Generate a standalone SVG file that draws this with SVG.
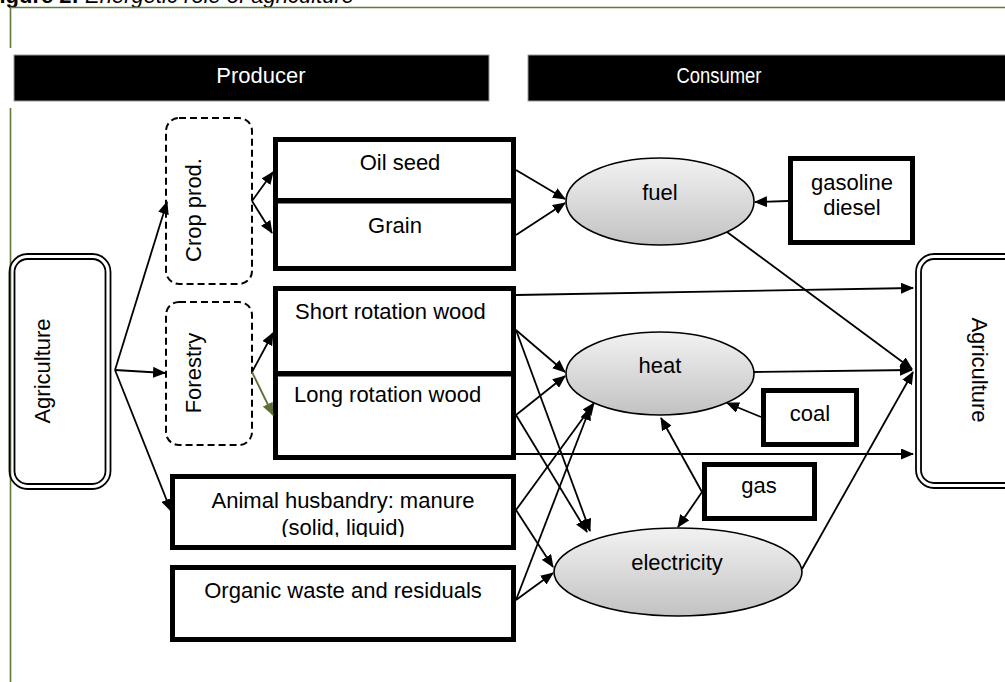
<svg xmlns="http://www.w3.org/2000/svg" width="1005" height="682" viewBox="0 0 1005 682">
<defs>
<style>
text{font-family:"Liberation Sans",Arial,sans-serif;font-size:22px;fill:#000}
.hdr{fill:#fff}
.thick{fill:#fff;stroke:#000;stroke-width:5}
.dash{fill:#fff;stroke:#000;stroke-width:2;stroke-dasharray:7 4}
.dbl{fill:none;stroke:#000;stroke-width:1.8}
.ell{fill:url(#g);stroke:#000;stroke-width:1.6}
.c{fill:none;stroke:#000;stroke-width:1.8;marker-end:url(#ah)}
.cg{fill:none;stroke:#5b7032;stroke-width:1.8;marker-end:url(#ahg)}
.frame{fill:none;stroke:#5f7a3a;stroke-width:1.6}
</style>
<linearGradient id="g" x1="0" y1="0" x2="0" y2="1">
<stop offset="0" stop-color="#f2f2f2"/>
<stop offset="1" stop-color="#c2c2c2"/>
</linearGradient>
<marker id="ah" markerWidth="13" markerHeight="11" refX="12" refY="5.5" orient="auto" markerUnits="userSpaceOnUse"><path d="M0,0 L13,5.5 L0,11 z" fill="#000"/></marker>
<marker id="ahg" markerWidth="13" markerHeight="11" refX="12" refY="5.5" orient="auto" markerUnits="userSpaceOnUse"><path d="M0,0 L13,5.5 L0,11 z" fill="#5b7032"/></marker>
<clipPath id="clipA"><rect x="175" y="479" width="336" height="58"/></clipPath>
</defs>
<rect width="1005" height="682" fill="#fff"/>

<g id="title"><text x="-14" y="2.5" font-size="24"><tspan font-weight="bold">Figure 2:</tspan><tspan font-style="italic"> Energetic role of agriculture</tspan></text></g>

<g id="frame">
<path class="frame" d="M10.5,48 V7.5 H1005"/>
<path class="frame" d="M10.5,108 V682"/>
</g>

<g id="header-producer">
<rect x="14" y="55" width="475" height="46" fill="#000" stroke="#999" stroke-width="1"/>
<text class="hdr" x="261" y="83" text-anchor="middle">Producer</text>
</g>
<g id="header-consumer">
<rect x="528" y="55" width="480" height="46" fill="#000" stroke="#999" stroke-width="1"/>
<text class="hdr" x="719" y="83" text-anchor="middle" textLength="85" lengthAdjust="spacingAndGlyphs">Consumer</text>
</g>

<g id="agriculture-left">
<rect class="dbl" x="9.5" y="254" width="101" height="235" rx="18"/>
<rect class="dbl" x="14.5" y="259" width="91" height="225" rx="13"/>
<text transform="translate(50,371) rotate(-90)" text-anchor="middle">Agriculture</text>
</g>

<g id="agriculture-right">
<rect class="dbl" x="916" y="254" width="120" height="234" rx="18"/>
<rect class="dbl" x="921" y="259" width="110" height="224" rx="13"/>
<text transform="translate(972,370) rotate(90)" text-anchor="middle">Agriculture</text>
</g>

<g id="crop-prod">
<rect class="dash" x="166" y="118" width="86" height="166" rx="13"/>
<text transform="translate(201,210) rotate(-90)" text-anchor="middle">Crop prod.</text>
</g>

<g id="forestry">
<rect class="dash" x="166" y="302" width="86" height="143" rx="13"/>
<text transform="translate(201,373) rotate(-90)" text-anchor="middle">Forestry</text>
</g>

<g id="oil-seed">
<rect class="thick" x="275.5" y="139.5" width="238" height="61"/>
<text x="400" y="170" text-anchor="middle">Oil seed</text>
</g>
<g id="grain">
<rect class="thick" x="275.5" y="201" width="238" height="67.5"/>
<text x="395" y="233" text-anchor="middle">Grain</text>
</g>

<g id="short-rotation">
<rect class="thick" x="275.5" y="288.5" width="238" height="85"/>
<text x="295" y="319">Short rotation wood</text>
</g>
<g id="long-rotation">
<rect class="thick" x="275.5" y="374" width="238" height="83.5"/>
<text x="294" y="402" font-size="19.5">Long rotation wood</text>
</g>

<g id="animal">
<rect class="thick" x="172.5" y="476.5" width="341" height="71"/>
<g clip-path="url(#clipA)">
<text x="343" y="508" text-anchor="middle">Animal husbandry: manure</text>
<text x="343" y="535" text-anchor="middle">(solid, liquid)</text>
</g>
</g>

<g id="organic">
<rect class="thick" x="172.5" y="567.5" width="341" height="72"/>
<text x="343" y="598" text-anchor="middle">Organic waste and residuals</text>
</g>

<g id="fuel">
<ellipse class="ell" cx="660" cy="201.5" rx="94" ry="43.5"/>
<text x="660" y="200" text-anchor="middle">fuel</text>
</g>
<g id="heat">
<ellipse class="ell" cx="660" cy="373.5" rx="94" ry="41.5"/>
<text x="660" y="373" text-anchor="middle">heat</text>
</g>
<g id="electricity">
<ellipse class="ell" cx="678" cy="572" rx="124" ry="44"/>
<text x="677" y="570" text-anchor="middle">electricity</text>
</g>

<g id="gasoline-diesel">
<rect class="thick" x="790.5" y="158.5" width="122" height="84" stroke-width="5.5"/>
<text x="852" y="190" text-anchor="middle">gasoline</text>
<text x="852" y="215" text-anchor="middle">diesel</text>
</g>
<g id="coal">
<rect class="thick" x="763.5" y="390.5" width="93" height="54" stroke-width="5.5"/>
<text x="810" y="421" text-anchor="middle">coal</text>
</g>
<g id="gas">
<rect class="thick" x="704.5" y="464.5" width="110" height="54" stroke-width="5.5"/>
<text x="759" y="493" text-anchor="middle" font-size="20">gas</text>
</g>

<g id="connectors">
<line class="c" x1="115" y1="370" x2="167" y2="202"/>
<line class="c" x1="115" y1="370" x2="165" y2="373"/>
<line class="c" x1="115" y1="370" x2="171" y2="511"/>
<line class="c" x1="252" y1="201" x2="273" y2="172"/>
<line class="c" x1="252" y1="201" x2="272" y2="233"/>
<line class="c" x1="252" y1="372" x2="273" y2="333"/>
<line class="cg" x1="252" y1="372" x2="273" y2="415"/>
<line class="c" x1="516" y1="170" x2="565" y2="199"/>
<line class="c" x1="516" y1="235" x2="565" y2="203"/>
<line class="c" x1="788" y1="201" x2="755" y2="202"/>
<line class="c" x1="727" y1="232" x2="912" y2="369"/>
<line class="c" x1="516" y1="295" x2="913" y2="288"/>
<line class="c" x1="516" y1="454" x2="913" y2="454"/>
<line class="c" x1="754" y1="372" x2="912" y2="370"/>
<line class="c" x1="802" y1="569" x2="913" y2="372"/>
<line class="c" x1="761" y1="417" x2="727" y2="403"/>
<line class="c" x1="702" y1="492" x2="661" y2="418"/>
<line class="c" x1="702" y1="492" x2="678" y2="527"/>
<line class="c" x1="516" y1="330" x2="565" y2="372"/>
<line class="c" x1="516" y1="330" x2="590" y2="531"/>
<line class="c" x1="516" y1="415" x2="565" y2="376"/>
<line class="c" x1="516" y1="415" x2="587" y2="532"/>
<line class="c" x1="516" y1="510" x2="594" y2="403"/>
<line class="c" x1="516" y1="510" x2="553" y2="567"/>
<line class="c" x1="516" y1="600" x2="590" y2="408"/>
<line class="c" x1="516" y1="600" x2="553" y2="573"/>
</g>
</svg>
